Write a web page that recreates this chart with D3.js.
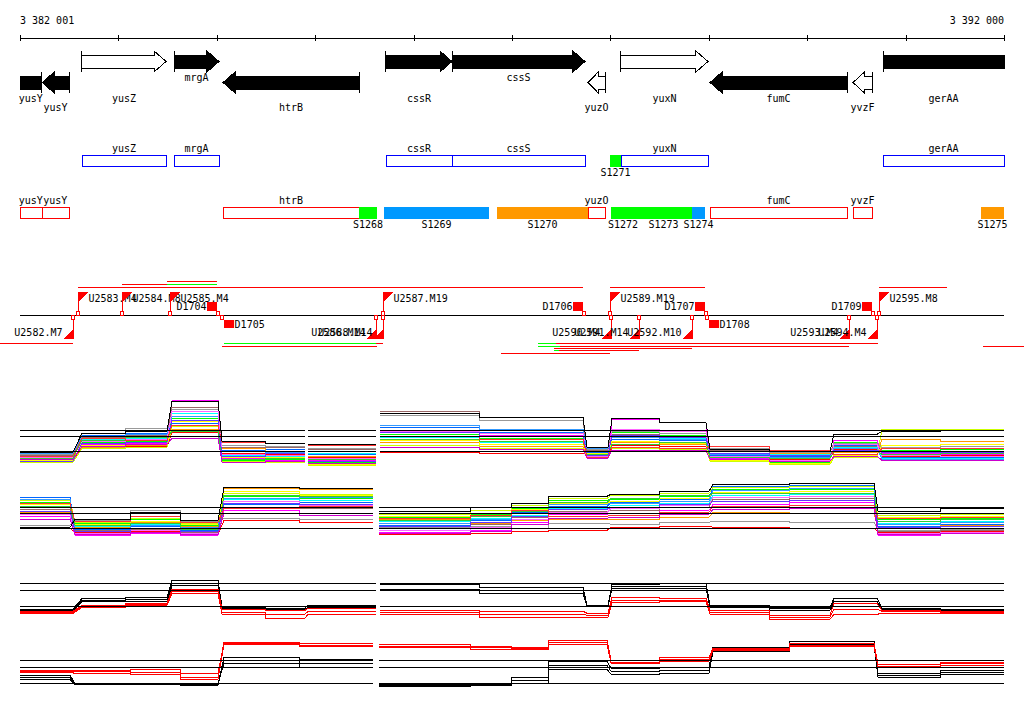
<!DOCTYPE html>
<html>
<head>
<meta charset="utf-8">
<script src="https://cdn.jsdelivr.net/npm/d3@7"></script>
<style>
body { margin: 0; background: #fff; }
svg { shape-rendering: crispEdges; }
text { font-family: "DejaVu Sans Mono", monospace; font-size: 10px; fill: #000; }
</style>
</head>
<body>
<svg id="chart" width="1024" height="714"></svg>
<script>
// window on the chromosome, positions below are offsets from START
var START = 3382001, END = 3392000;
var axisTicks = [0, 1000, 2000, 3000, 4000, 5000, 6000, 7000, 8000, 9000, 9999];

// name, start, end, strand, filled, label row
var genes = [
  ["yusY", -300, 220, -1, 1, 1],
  ["yusY", 225, 498, -1, 1, 2],
  ["yusZ", 630, 1484, 1, 0, 1],
  ["mrgA", 1565, 2022, 1, 1, 0],
  ["htrB", 2063, 3445, -1, 1, 2],
  ["cssR", 3719, 4390, 1, 1, 1],
  ["cssS", 4390, 5741, 1, 1, 0],
  ["yuzO", 5772, 5945, -1, 0, 2],
  ["yuxN", 6107, 6991, 1, 0, 1],
  ["fumC", 7012, 8404, -1, 1, 1],
  ["yvzF", 8465, 8658, -1, 0, 2],
  ["gerAA", 8770, 10400, 1, 1, 1]
];

// annotation boxes, + strand and - strand
var boxesPlus = [["yusZ", 630, 1484], ["mrgA", 1565, 2022], ["cssR", 3719, 4390],
  ["cssS", 4390, 5741], ["yuxN", 6107, 6991], ["gerAA", 8770, 9999]];
var boxesMinus = [["yusY", 0, 220], ["yusY", 220, 498], ["htrB", 2063, 3445],
  ["yuzO", 5772, 5945], ["fumC", 7012, 8404], ["yvzF", 8465, 8658]];

// name, start, end, class, strand
var segments = [
  ["S1268", 3445, 3628, 0, -1], ["S1269", 3699, 4766, 1, -1], ["S1270", 4847, 5772, 2, -1],
  ["S1271", 5995, 6107, 0, 1], ["S1272", 6006, 6249, 0, -1], ["S1273", 6249, 6829, 0, -1],
  ["S1274", 6829, 6961, 1, -1], ["S1275", 9765, 9999, 2, -1]
];

// promoters: name, position, strand
var promoters = [
  ["U2582.M7", 539, -1], ["U2583.M4", 589, 1], ["U2584.M8", 1036, 1], ["U2585.M4", 1524, 1],
  ["U2586.M14", 3614, -1], ["U2588.M14", 3689, -1], ["U2587.M19", 3689, 1],
  ["U2589.M19", 5995, 1], ["U2590.M4", 6006, -1], ["U2591.M14", 6290, -1],
  ["U2592.M10", 6829, -1], ["U2593.M4", 8424, -1], ["U2594.M4", 8709, -1], ["U2595.M8", 8729, 1]
];

// terminators: name, position, strand
var terminators = [["D1704", 2002, 1], ["D1705", 2074, -1], ["D1706", 5721, 1],
  ["D1707", 6961, 1], ["D1708", 7002, -1], ["D1709", 8658, 1]];

// transcription units: start, end, lane, kind (0 red, 1 green)
var unitsPlus = [[589, 5721, 0, 0], [1036, 1495, 1, 0], [1495, 2002, 1, 1], [1495, 2002, 2, 0],
  [3689, 5721, 0, 0], [5995, 6961, 0, 0], [8729, 9420, 0, 0]];
var unitsMinus = [[-200, 539, 0, 0], [2074, 3689, 0, 0], [2074, 3614, 0, 1], [2054, 3628, 1, 0],
  [4888, 5995, 4, 0], [5446, 8719, 0, 0], [5263, 5446, 0, 1], [5487, 8424, 1, 0], [5263, 5487, 1, 1],
  [5426, 6829, 2, 0], [5477, 6290, 3, 0], [5426, 5477, 3, 1], [9785, 10240, 1, 0]];

// expression profiles: one level per segment
var segsUp = [[0, 539], [630, 1067], [1067, 1494], [1545, 2012], [2053, 2490], [2490, 2896],
  [2927, 3618], [3658, 4674], [4674, 5721], [5762, 5975], [6016, 6503], [6503, 6970],
  [7012, 7621], [7621, 8231], [8271, 8709], [8759, 9349], [9349, 9999]];
var segsDown = [[0, 508], [559, 1118], [1118, 1626], [1626, 2012], [2073, 2845], [2845, 3587],
  [3648, 4573], [4573, 4999], [4999, 5375], [5375, 5965], [6006, 6503], [6503, 7001],
  [7042, 7824], [7824, 8678], [8719, 9349], [9349, 9999]];

var seriesA = [
  [-0.9, 0.5, 0.5, 1.9, -0.2, -0.3, -0.6, -0.1, -0.2, -0.3, 0.6, 0.5, -0.6, -0.8, 0.2, -0.5, -0.4],
  [-1.0, 0.9, 1.0, 3.3, -0.9, -0.8, -1.1, 1.7, 1.3, -0.5, 1.9, 1.6, -0.8, -1.1, 0.9, 0.1, 0.2],
  [-0.6, 1.6, 1.8, 2.8, 0.1, 0.2, -0.3, 2.4, 1.9, -0.1, 1.2, 1.1, -0.4, -0.5, 0.6, -0.6, -0.6],
  [-0.8, 0.7, 0.8, 5.1, -0.7, -0.9, -0.9, 2.1, 1.6, -0.6, 3.2, 2.9, -0.7, -1.0, 1.1, -0.2, -0.3],
  [-0.5, 1.2, 1.3, 3.8, -0.4, -0.5, -0.2, 1.4, 0.9, 0.0, 1.5, 1.3, -0.2, -0.3, 0.4, -0.7, -0.7],
  [-0.7, 0.4, 0.6, 2.2, 0.3, 0.0, -0.5, 0.9, 0.5, -0.4, 0.9, 0.7, 0.0, -0.2, -0.1, 1.2, 1.0],
  [-1.1, 0.3, 0.4, 2.5, -1.0, -1.1, -1.4, 0.6, 0.3, -0.7, 0.3, 0.2, -1.0, -1.3, -0.6, 2.2, 2.2],
  [-0.3, 1.8, 2.3, 4.2, 0.6, 0.5, 0.3, 3.6, 3.1, 0.2, 2.0, 1.8, 0.3, -0.1, 0.8, 0.4, 0.5],
  [-0.4, 1.4, 1.6, 4.4, 0.4, 0.4, 0.2, 4.0, 3.4, 0.1, 1.7, 1.5, 0.1, 0.0, 0.5, 0.0, 0.0],
  [-0.9, 0.6, 0.7, 3.0, -0.6, -0.6, -1.3, 1.1, 0.7, -0.2, 1.0, 0.8, -0.9, -1.2, -0.4, 0.6, 0.7],
  [-0.2, 1.5, 1.7, 3.5, 0.0, -0.1, 0.0, 2.6, 2.2, 0.3, 1.4, 1.2, -0.3, -0.6, 0.3, -0.8, -0.8],
  [-0.6, 1.0, 1.2, 4.0, -0.3, -0.4, -0.7, 2.0, 1.8, -0.5, 2.2, 2.0, -0.5, -0.9, 0.7, -0.4, -0.5],
  [-0.7, 1.1, 1.4, 2.0, -0.8, -0.7, -0.8, 1.2, 1.0, -0.3, 0.7, 0.9, -0.6, -0.7, 0.0, -0.3, -0.2],
  [-1.0, 0.8, 0.9, 3.1, -0.5, -0.2, -1.0, 1.9, 1.5, -0.4, 1.6, 1.4, -0.2, -0.4, 0.1, -0.1, -0.1],
  [-0.5, 1.3, 1.1, 2.6, 0.9, 0.8, 0.6, 1.5, 1.2, -0.6, 0.4, 0.3, 0.5, 0.1, -0.3, 0.3, 0.3],
  [-0.8, 0.5, 0.7, 1.3, -1.1, -1.0, -1.2, 0.4, 0.2, -0.7, 0.1, 0.1, -0.8, -1.0, -0.5, -0.9, -0.9],
  [-0.1, 1.8, 2.0, 5.0, 1.0, 0.8, 0.7, 3.8, 3.4, 0.4, 3.3, 2.9, 0.2, 0.0, 1.7, 2.0, 2.1]
];
var seriesB = [
  [0.0, -0.4, -0.3, -0.6, 0.8, 0.6, -0.6, -0.5, -0.3, -0.2, 0.1, 0.2, 0.1, 0.0, -0.4, -0.3],
  [2.6, 0.5, 0.9, 0.3, 3.2, 3.0, 1.1, 1.4, 2.0, 2.8, 2.9, 3.2, 3.9, 3.9, 0.9, 1.0],
  [3.1, -0.1, 0.2, -0.2, 2.4, 2.6, 0.3, 0.8, 1.6, 2.2, 2.6, 2.9, 4.2, 4.3, 0.2, 0.4],
  [1.2, -0.7, -0.5, -0.7, 1.8, 1.5, -0.4, -0.2, 0.6, 1.4, 1.5, 1.8, 2.4, 2.6, -0.7, -0.5],
  [2.1, 0.2, 0.4, 0.0, 2.9, 2.8, 0.7, 1.0, 1.3, 2.0, 2.3, 2.5, 3.3, 3.4, 0.5, 0.7],
  [1.6, 0.1, 0.6, 0.2, 4.0, 3.9, 0.9, 0.5, 0.8, 0.9, 0.9, 1.1, 1.6, 1.5, 0.0, 0.3],
  [2.8, 0.6, 1.0, 0.5, 3.5, 3.4, 1.4, 1.8, 2.3, 3.0, 3.3, 3.5, 4.1, 4.2, 1.3, 1.4],
  [0.3, 0.8, 1.8, 0.7, 1.0, 0.9, 0.1, 0.2, 0.0, 0.5, 0.4, 0.6, 0.7, 0.6, -0.2, -0.1],
  [1.9, -0.2, -0.1, -0.4, 2.1, 2.0, 0.0, 0.4, 1.1, 1.7, 1.8, 2.1, 2.9, 3.0, -0.3, -0.2],
  [2.4, 0.4, 0.7, 0.4, 3.7, 3.3, 1.2, 1.5, 1.9, 2.5, 2.7, 3.0, 3.6, 3.7, 1.1, 1.2],
  [2.9, 0.0, 0.3, 0.1, 3.0, 3.1, 0.5, 0.9, 1.5, 2.4, 2.5, 2.7, 3.8, 4.0, 0.4, 0.6],
  [1.4, -0.5, -0.2, -0.5, 2.7, 2.3, -0.2, 0.1, 0.9, 1.6, 2.0, 2.3, 3.1, 3.2, -0.5, -0.4],
  [2.2, 0.3, 0.5, -0.1, 3.3, 3.2, 0.8, 1.2, 1.7, 2.6, 3.0, 3.3, 3.5, 3.5, 0.7, 0.9],
  [1.7, -0.3, 0.0, -0.3, 2.5, 2.4, 0.2, 0.6, 1.2, 1.9, 2.1, 2.4, 2.7, 2.8, 0.1, 0.2],
  [2.5, 0.7, 1.2, 0.6, 2.0, 2.2, 1.0, 1.3, 1.8, 1.2, 1.3, 1.6, 2.2, 2.3, 1.0, 1.1],
  [0.9, -0.6, -0.4, -0.6, 1.5, 1.3, -0.5, -0.3, 0.4, 1.0, 1.1, 1.4, 1.9, 2.0, -0.6, -0.5],
  [0.1, 0.9, 1.6, 0.8, 4.1, 4.0, 1.7, 2.1, 2.5, 3.2, 3.4, 3.7, 4.4, 4.5, 1.7, 2.0]
];
var seriesC = [
  [-0.3, 0.8, 0.9, 2.6, -0.1, -0.2, 0.1, 2.2, 1.9, 0.1, 2.2, 2.3, 0.1, -0.1, 0.8, -0.2, -0.3],
  [-0.4, 0.6, 0.7, 2.3, -0.2, -0.3, -0.1, 1.7, 1.6, 0.1, 2.0, 2.0, 0.0, -0.2, 0.5, -0.3, -0.4],
  [-0.5, 0.5, 0.5, 2.1, -0.3, -0.4, -0.2, 1.6, 1.3, 0.0, 1.8, 1.8, -0.1, -0.4, 0.3, -0.4, -0.5],
  [-0.5, 0.1, 0.3, 1.7, -0.3, -0.4, -0.2, -0.4, -0.5, -0.7, 0.9, 0.8, -0.4, -0.9, 0.3, -0.4, -0.5],
  [-0.6, 0.0, 0.2, 1.5, -0.6, -0.8, -0.5, -0.6, -0.8, -0.9, 0.6, 0.6, -0.6, -1.1, -0.3, -0.5, -0.6],
  [-0.7, -0.1, 0.1, 1.3, -0.8, -1.2, -0.8, -0.8, -1.1, -1.1, 0.4, 0.5, -0.8, -1.3, -0.8, -0.7, -0.7]
];
var seriesD = [
  [0.8, 0.0, 0.0, -0.1, 2.6, 2.4, -0.1, 0.0, 0.6, 2.2, 1.5, 1.6, 3.6, 4.2, 1.0, 1.3],
  [0.6, -0.1, -0.1, -0.2, 2.3, 2.0, -0.2, -0.1, 0.3, 1.8, 1.2, 1.3, 3.4, 4.0, 0.8, 1.1],
  [0.4, -0.1, 0.0, 0.0, 2.0, 1.6, -0.3, -0.2, 0.0, 1.4, 0.9, 1.0, 3.2, 3.9, 0.6, 0.9],
  [1.3, 1.3, 1.4, 1.0, 4.1, 4.0, 3.9, 3.7, 3.6, 4.3, 2.3, 2.6, 3.5, 4.0, 1.9, 2.1],
  [1.2, 1.2, 1.1, 0.6, 4.0, 3.8, 3.7, 3.6, 3.5, 4.1, 2.1, 2.4, 3.4, 3.8, 1.7, 2.0],
  [1.1, 1.0, 0.9, 0.4, 3.9, 3.7, 3.6, 3.4, 3.4, 3.9, 2.0, 2.2, 3.3, 3.7, 1.6, 1.8]
];
var refsAB = [2.1, 1.5, 0];
var refsCD = [2.3, 1.6, 0];

var palette = ["#ff0000", "#00ff00", "#0066ff", "#ff00ff", "#00ffff", "#ff9900", "#ccff00", "#999999",
  "#996666", "#ffff00", "#3399ff", "#ff66ff", "#33cc33", "#6633ff", "#ff3333", "#cc00cc", "#000000"];
var pairColors = ["#000", "#000", "#000", "#ff0000", "#ff0000", "#ff0000"];
var segColors = ["#00ff00", "#0099ff", "#ff9900"];

var x = d3.scaleLinear().domain([0, 9999]).range([20, 1004]);
var svg = d3.select("#chart");
var fmt = function (n) { return d3.format(",")(n).replace(/,/g, " "); };

// scale bar
var gAxis = svg.append("g").attr("transform", "translate(0,38)")
  .call(d3.axisBottom(x).tickValues(axisTicks).tickSize(3).tickSizeOuter(0).tickFormat(""));
gAxis.selectAll(".tick line").attr("y1", -3).attr("y2", 3).attr("stroke", "#000");
gAxis.select(".domain").attr("stroke", "#000");
svg.append("text").attr("x", x(0)).attr("y", 24).text(fmt(START));
svg.append("text").attr("x", x(9999)).attr("y", 24).attr("text-anchor", "end").text(fmt(END));

svg.append("clipPath").attr("id", "win").append("rect")
  .attr("x", x(0)).attr("y", 0).attr("width", x(9999) - x(0) + 1).attr("height", 714);

// gene arrows
var gGenes = svg.append("g").attr("clip-path", "url(#win)");
var labelRows = [80.5, 101.5, 110.5];
genes.forEach(function (g) {
  var x0 = x(g[1]), x1 = x(g[2]), h = Math.min(12, (x1 - x0) * 0.6), pts, tick;
  if (g[3] > 0) {
    pts = [[x0, 55], [x1 - h, 55], [x1 - h, 51], [x1, 61.5], [x1 - h, 72], [x1 - h, 68], [x0, 68]];
    tick = [x0, 51, 72];
  } else {
    pts = [[x1, 76], [x0 + h, 76], [x0 + h, 72], [x0, 82.5], [x0 + h, 93], [x0 + h, 89], [x1, 89]];
    tick = [x1, 72, 93];
  }
  gGenes.append("path").attr("d", d3.line()(pts) + "Z")
    .attr("fill", g[4] ? "#000" : "#fff").attr("stroke", "#000");
  gGenes.append("line").attr("x1", tick[0]).attr("x2", tick[0]).attr("y1", tick[1]).attr("y2", tick[2])
    .attr("stroke", "#000");
  var cx = (Math.max(x0, x(0)) + Math.min(x1, x(9999))) / 2;
  svg.append("text").attr("x", cx).attr("y", labelRows[g[5]]).attr("text-anchor", "middle").text(g[0]);
});

// annotation rows
function boxRow(data, top, color) {
  data.forEach(function (b) {
    svg.append("rect").attr("x", x(b[1]) + 0.5).attr("y", top + 0.5)
      .attr("width", x(b[2]) - x(b[1])).attr("height", 11)
      .attr("fill", "#fff").attr("stroke", color);
    svg.append("text").attr("x", (x(b[1]) + x(b[2])) / 2).attr("y", top - 3)
      .attr("text-anchor", "middle").text(b[0]);
  });
}
boxRow(boxesPlus, 155, "#0000ff");
boxRow(boxesMinus, 207, "#ff0000");
segments.forEach(function (s) {
  var top = s[4] > 0 ? 155 : 207;
  svg.append("rect").attr("x", x(s[1])).attr("y", top).attr("width", x(s[2]) - x(s[1]))
    .attr("height", 12).attr("fill", segColors[s[3]]);
  svg.append("text").attr("x", (x(s[1]) + x(s[2])) / 2).attr("y", top + 20.5)
    .attr("text-anchor", "middle").text(s[0]);
});

// transcription units
var lanePlus = [287.5, 284.5, 281.5], laneMinus = [343.5, 346.5, 348.5, 350.5, 353.5];
var unitColors = ["#ff0000", "#00ff00"];
unitsPlus.forEach(function (u) {
  svg.append("line").attr("x1", x(u[0])).attr("x2", x(u[1])).attr("y1", lanePlus[u[2]]).attr("y2", lanePlus[u[2]])
    .attr("stroke", unitColors[u[3]]);
});
unitsMinus.forEach(function (u) {
  svg.append("line").attr("x1", x(u[0])).attr("x2", x(u[1])).attr("y1", laneMinus[u[2]]).attr("y2", laneMinus[u[2]])
    .attr("stroke", unitColors[u[3]]);
});

svg.append("line").attr("x1", x(0)).attr("x2", x(9999)).attr("y1", 315.5).attr("y2", 315.5).attr("stroke", "#000");

promoters.forEach(function (p) {
  var px = Math.round(x(p[1])) + 0.5;
  if (p[2] > 0) {
    svg.append("line").attr("x1", px).attr("x2", px).attr("y1", 292).attr("y2", 312).attr("stroke", "#ff0000");
    svg.append("path").attr("d", d3.line()([[px - 0.5, 292], [px + 10, 292], [px - 0.5, 302]]) + "Z").attr("fill", "#ff0000");
    svg.append("rect").attr("x", px - 2).attr("y", 311.5).attr("width", 3).attr("height", 3.5)
      .attr("fill", "#fff").attr("stroke", "#ff0000");
    svg.append("text").attr("x", px + 10).attr("y", 301.5).text(p[0]);
  } else {
    svg.append("line").attr("x1", px).attr("x2", px).attr("y1", 319).attr("y2", 338).attr("stroke", "#ff0000");
    svg.append("path").attr("d", d3.line()([[px + 0.5, 338.5], [px - 10, 338.5], [px + 0.5, 328]]) + "Z").attr("fill", "#ff0000");
    svg.append("rect").attr("x", px - 2).attr("y", 315.5).attr("width", 3).attr("height", 3.5)
      .attr("fill", "#fff").attr("stroke", "#ff0000");
    svg.append("text").attr("x", px - 11).attr("y", 336).attr("text-anchor", "end").text(p[0]);
  }
});

terminators.forEach(function (t) {
  var tx = x(t[1]);
  if (t[2] > 0) {
    svg.append("rect").attr("x", tx - 10).attr("y", 302).attr("width", 10).attr("height", 8.5).attr("fill", "#ff0000");
    svg.append("rect").attr("x", tx - 0.5).attr("y", 311.5).attr("width", 3).attr("height", 3.5)
      .attr("fill", "#fff").attr("stroke", "#ff0000");
    svg.append("text").attr("x", tx - 10.5).attr("y", 310).attr("text-anchor", "end").text(t[0]);
  } else {
    svg.append("rect").attr("x", tx).attr("y", 319.5).attr("width", 10).attr("height", 8.5).attr("fill", "#ff0000");
    svg.append("rect").attr("x", tx - 3.5).attr("y", 315.5).attr("width", 3).attr("height", 3.5)
      .attr("fill", "#fff").attr("stroke", "#ff0000");
    svg.append("text").attr("x", tx + 10.5).attr("y", 328).text(t[0]);
  }
});

// expression panels
function drawPanel(segs, series, colors, zero, refs, breaks) {
  var y = d3.scaleLinear().domain([0, 1]).range([zero, zero - 10]);
  var line = d3.line().defined(function (d) { return d; })
    .x(function (d) { return x(d[0]); }).y(function (d) { return y(d[1]); });
  var g = svg.append("g");
  series.forEach(function (vals, i) {
    var pts = [];
    segs.forEach(function (s, j) {
      if (breaks.indexOf(j) >= 0) pts.push(null);
      pts.push([s[0], vals[j]], [s[1], vals[j]]);
    });
    g.append("path").attr("d", line(pts)).attr("fill", "none").attr("stroke", colors[i]);
  });
  // reference levels, broken like the data
  var blocks = [], from = segs[0][0];
  breaks.forEach(function (b) { blocks.push([from, segs[b - 1][1]]); from = segs[b][0]; });
  blocks.push([from, segs[segs.length - 1][1]]);
  refs.forEach(function (r) {
    blocks.forEach(function (bk) {
      g.append("line").attr("x1", x(bk[0])).attr("x2", x(bk[1]))
        .attr("y1", y(r)).attr("y2", y(r)).attr("stroke", "#000");
    });
  });
}
drawPanel(segsUp, seriesA, palette, 451.3, refsAB, [6, 7]);
drawPanel(segsDown, seriesB, palette, 528.3, refsAB, [6]);
drawPanel(segsUp, seriesC, pairColors, 606.3, refsCD, [7]);
drawPanel(segsDown, seriesD, pairColors, 683.3, refsCD, [6]);
</script>
</body>
</html>
